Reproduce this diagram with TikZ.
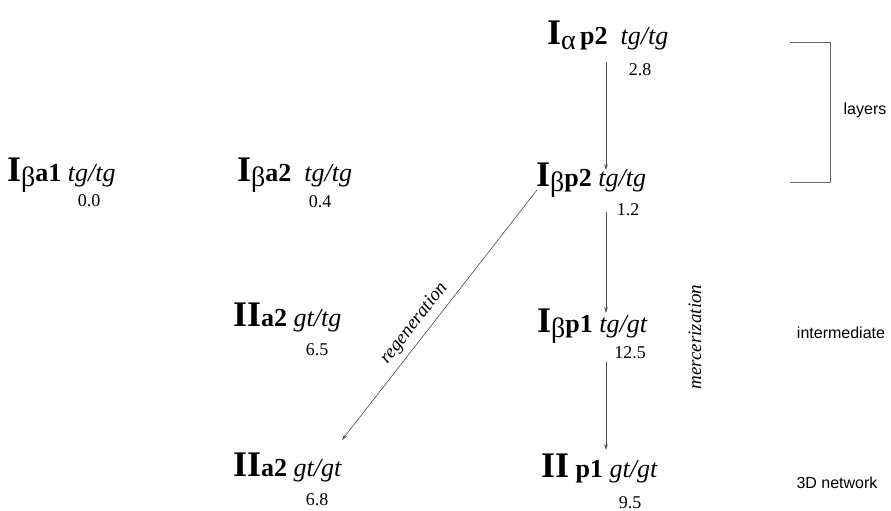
\documentclass[tikz,border=0pt]{standalone}
\usepackage{fontspec}
\setmainfont{Liberation Serif}
\newfontfamily\labelsans{Liberation Sans}
\usetikzlibrary{arrows.meta, calc}

% big roman numeral, greek subscript, bold site label
\newcommand{\phs}[3]{{\fontsize{36}{36}\selectfont\bfseries #1}\raisebox{-5pt}{\fontsize{28}{28}\selectfont #2}{\fontsize{26}{26}\selectfont\bfseries #3}}

\begin{document}
\begin{tikzpicture}[
    x=1pt, y=1pt,
    phase/.style={anchor=base west, inner sep=0pt, font=\fontsize{26}{30}\selectfont},
    energy/.style={inner sep=0pt, font=\fontsize{18}{18}\selectfont},
    side/.style={inner sep=0pt, font=\labelsans\fontsize{16}{16}\selectfont},
    arrow/.style={-{Stealth[length=6pt, width=3.5pt]}, draw=black!70, line width=0.6pt},
    proc/.style={inner sep=1pt, font=\itshape\fontsize{19}{19}\selectfont},
]
\useasboundingbox (0,0) rectangle (891,511);

% antiparallel chains
\node[phase] (ba1) at (7,329) {\phs{I}{β}{a1}\ \textit{tg/tg}};
\node[energy] (eba1) at (89,310) {0.0};

\node[phase] (ba2) at (237,329) {\phs{I}{β}{a2}\ \ \textit{tg/tg}};
\node[energy] (eba2) at (320,309) {0.4};

\node[phase] (IIa2tg) at (233,184) {\phs{II}{}{a2}\ \textit{gt/tg}};
\node[energy] (eIIa2tg) at (317,161) {6.5};

\node[phase] (IIa2gt) at (233,34) {\phs{II}{}{a2}\ \textit{gt/gt}};
\node[energy] (eIIa2gt) at (317,11) {6.8};

% parallel chains
\node[phase] (ap2) at (547,466) {\phs{I}{α}{\,p2}\ \ \textit{tg/tg}};
\node[energy] (eap2) at (640,441) {2.8};

\node[phase] (bp2) at (536,324) {\phs{I}{β}{p2}\ \textit{tg/tg}};
\node[energy] (ebp2) at (628,301) {1.2};

\node[phase] (bp1) at (537,178) {\phs{I}{β}{p1}\ \textit{tg/gt}};
\node[energy] (ebp1) at (630,158) {12.5};

\node[phase] (IIp1) at (541,33) {\phs{II}{}{\ p1}\ \textit{gt/gt}};
\node[energy] (eIIp1) at (630,8) {9.5};

% transitions
\draw[arrow] ($(ap2.base west)+(59,-17)$) -- ($(bp2.base west)+(70,17)$);
\draw[arrow] ($(bp2.base west)+(70,-25)$) -- ($(bp1.base west)+(69,20)$);
\draw[arrow] ($(bp1.base west)+(69,-29)$) -- ($(IIp1.base west)+(65,28)$);
\draw[arrow] ($(bp2.base west)+(1,-3)$) -- ($(IIa2gt.base west)+(109,37)$)
    node[proc, pos=0.57, sloped, above=5pt] (regen) {regeneration};
\node[proc, rotate=90] (merc) at (695,174) {mercerization};

% right hand labels
\draw[draw=black!60, line width=0.6pt] (790,469) -- (830,469) -- (830,329) -- (790,329);
\node[side] (layers) at (865,401) {layers};
\node[side] (inter) at (841,178) {intermediate};
\node[side] (net) at (837,28) {3D network};

\end{tikzpicture}
\end{document}
